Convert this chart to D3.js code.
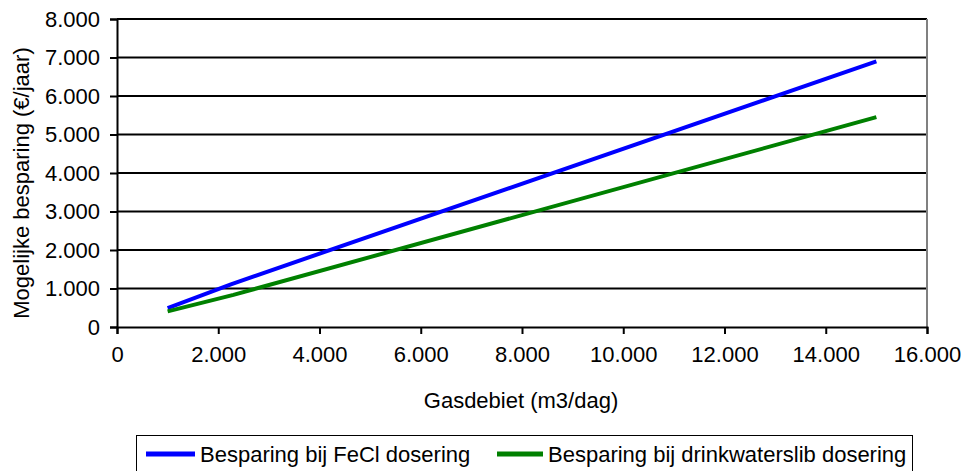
<!DOCTYPE html>
<html>
<head>
<meta charset="utf-8">
<style type="text/css">
	body { margin: 0; background: white; }
	.chart text { font-family: "Liberation Sans", Arial, sans-serif; font-size: 22px; fill: black; }
	.grid line { stroke: black; stroke-width: 2; }
</style>
</head>
<body>
<svg class="chart" width="962" height="471"></svg>
<script src="https://d3js.org/d3.v7.min.js"></script>
<script>
// series (x = gasdebiet m3/dag, y = besparing €/jaar)
var fecl_x = [1000, 2250, 15000];
var fecl_y = [490, 1110, 6900];
var slib_x = [1000, 2300, 15000];
var slib_y = [405, 835, 5450];

var seriesNames = ["Besparing bij FeCl dosering", "Besparing bij drinkwaterslib dosering"];
var seriesColors = ["#0000ff", "#008000"];

var xTicks = [0, 2000, 4000, 6000, 8000, 10000, 12000, 14000, 16000];
var yTicks = [0, 1000, 2000, 3000, 4000, 5000, 6000, 7000, 8000];

var xTitle = "Gasdebiet (m3/dag)";
var yTitle = "Mogelijke besparing (€/jaar)";

// dutch number format: 1.000
var nl = d3.formatLocale({decimal: ",", thousands: ".", grouping: [3], currency: ["€", ""]});
var fmt = nl.format(",d");

var svg = d3.select("svg");
var plotLeft = 117, plotTop = 19, plotRight = 927, plotBottom = 327;

var x = d3.scaleLinear().domain([0, 16000]).range([plotLeft, plotRight]);
var y = d3.scaleLinear().domain([0, 8000]).range([plotBottom, plotTop]);

//gridlines
svg.append("g")
	.attr("class", "grid")
	.selectAll("line")
	.data(yTicks.filter(function(d) { return d > 0; }))
	.enter()
	.append("line")
	.attr("x1", plotLeft)
	.attr("x2", plotRight)
	.attr("y1", function(d) { return y(d); })
	.attr("y2", function(d) { return y(d); });

//right border
svg.append("line")
	.attr("x1", plotRight).attr("x2", plotRight)
	.attr("y1", plotTop).attr("y2", plotBottom)
	.attr("stroke", "#808080")
	.attr("stroke-width", 2);

//axes
var yAxis = svg.append("g")
	.attr("transform", "translate(" + plotLeft + ",0)")
	.call(d3.axisLeft(y).tickValues(yTicks).tickFormat(fmt).tickSize(7).tickPadding(10));

var xAxis = svg.append("g")
	.attr("transform", "translate(0," + plotBottom + ")")
	.call(d3.axisBottom(x).tickValues(xTicks).tickFormat(fmt).tickSize(7).tickPadding(12));

[xAxis, yAxis].forEach(function(ax) {
	ax.selectAll("path").attr("stroke", "black").attr("stroke-width", 2);
	ax.selectAll("line").attr("stroke", "black").attr("stroke-width", 2);
	ax.selectAll("text")
		.style("font-family", "'Liberation Sans', Arial, sans-serif")
		.style("font-size", "22px")
		.attr("fill", "black");
});

//lines
var line = d3.line()
	.x(function(d) { return x(d[0]); })
	.y(function(d) { return y(d[1]); });

var series = [d3.zip(fecl_x, fecl_y), d3.zip(slib_x, slib_y)];

svg.append("g")
	.selectAll("path")
	.data(series)
	.enter()
	.append("path")
	.attr("d", line)
	.attr("fill", "none")
	.attr("stroke", function(d, i) { return seriesColors[i]; })
	.attr("stroke-width", 4);

//axis titles
svg.append("text")
	.attr("x", 521)
	.attr("y", 408)
	.style("text-anchor", "middle")
	.text(xTitle);

svg.append("text")
	.attr("transform", "translate(29,183) rotate(-90)")
	.style("text-anchor", "middle")
	.text(yTitle);

//legend
svg.append("rect")
	.attr("x", 136.5)
	.attr("y", 435.5)
	.attr("width", 776)
	.attr("height", 60)
	.attr("fill", "white")
	.attr("stroke", "black")
	.attr("stroke-width", 1);

var legendX = [146, 497];
var legend = svg.append("g")
	.selectAll("g")
	.data(seriesNames)
	.enter()
	.append("g")
	.attr("transform", function(d, i) { return "translate(" + legendX[i] + ",454)"; });

legend.append("line")
	.attr("x1", 0)
	.attr("x2", function(d, i) { return i == 0 ? 49 : 46; })
	.attr("stroke", function(d, i) { return seriesColors[i]; })
	.attr("stroke-width", 5);

legend.append("text")
	.attr("x", function(d, i) { return i == 0 ? 54 : 51; })
	.attr("y", 8)
	.text(function(d) { return d; });
</script>
</body>
</html>
